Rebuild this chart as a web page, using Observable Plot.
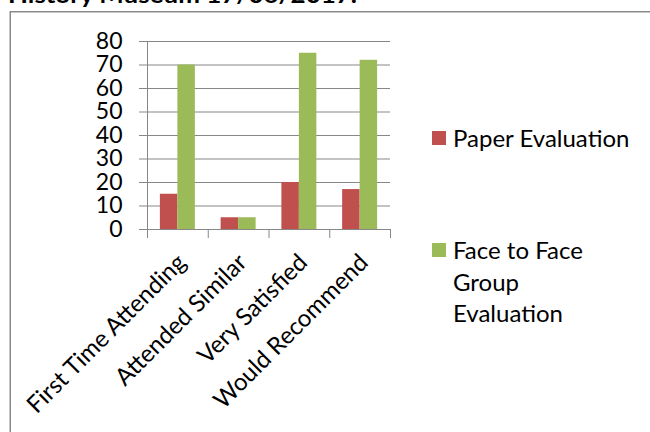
<!DOCTYPE html>
<html>
<head>
<meta charset="utf-8">
<script src="https://cdn.jsdelivr.net/npm/d3@7"></script>
<script src="https://cdn.jsdelivr.net/npm/@observablehq/plot@0.6"></script>
<style>
  html, body { margin: 0; padding: 0; background: #fff; overflow: hidden; }
  #chart { position: relative; width: 650px; height: 432px; }
</style>
</head>
<body>
<div id="chart"></div>
<script>
const title = "History Museum 17/06/2017.";
const categories = ["First Time Attending", "Attended Similar", "Very Satisfied", "Would Recommend"];
const series = ["Paper Evaluation", "Face to Face Group Evaluation"];
const legendLines = [["Paper Evaluation"], ["Face to Face", "Group", "Evaluation"]];
const paperValues = [15, 5, 20, 17];
const faceValues = [70, 5, 75, 72];
const yTicks = [0, 10, 20, 30, 40, 50, 60, 70, 80];
const colors = ["#C0504D", "#9BBB59"];

const FONT = "Lato, 'Open Sans', sans-serif";
const GRAY = "#878787";
const barFrac = 0.288; // bar width as a fraction of a category slot

const data = categories.flatMap((c, i) => [
  {cat: c, i, k: 0, series: series[0], value: paperValues[i]},
  {cat: c, i, k: 1, series: series[1], value: faceValues[i]}
]);

const plot = Plot.plot({
  width: 650,
  height: 432,
  marginLeft: 147,
  marginRight: 260,
  marginTop: 41,
  marginBottom: 203,
  x: {domain: [0, categories.length], axis: null},
  y: {domain: [0, 80], axis: null},
  color: {domain: series, range: colors},
  style: {fontFamily: FONT, background: "transparent", overflow: "visible", color: "#000"},
  marks: [
    Plot.gridY(yTicks, {stroke: GRAY, strokeOpacity: 1, strokeWidth: 1}),
    Plot.rectY(data, {
      x1: d => d.i + 0.5 + (d.k - 1) * barFrac,
      x2: d => d.i + 0.5 + d.k * barFrac,
      y: "value",
      fill: "series"
    }),
    Plot.ruleY([0], {stroke: GRAY, strokeWidth: 1}),
    Plot.ruleX([0], {stroke: GRAY, strokeWidth: 1}),
    Plot.axisY(yTicks, {tickSize: 8, tickPadding: 17, fontSize: 23, stroke: GRAY, fill: "#000", label: null}),
    Plot.axisX(d3.range(categories.length + 1), {tickSize: 9, tickFormat: () => "", stroke: GRAY, label: null}),
    Plot.text(categories, {
      x: (d, i) => i + 0.5,
      y: () => 0,
      text: d => d,
      rotate: -45,
      textAnchor: "end",
      fontSize: 24,
      fill: "#000",
      dx: 4,
      dy: 29
    })
  ]
});

document.getElementById("chart").appendChild(plot);

const svg = d3.select(plot);

// outer chart frame (extends past the visible window)
svg.insert("rect", ":first-child")
  .attr("x", 10.25).attr("y", 11.75)
  .attr("width", 800).attr("height", 600)
  .attr("fill", "none").attr("stroke", "#8a8a8a").attr("stroke-width", 1.5);

// clipped title above the frame
svg.append("text")
  .attr("x", 8).attr("y", 3)
  .attr("text-anchor", "start")
  .attr("font-family", FONT).attr("font-weight", "bold").attr("font-size", 22)
  .attr("textLength", 349).attr("lengthAdjust", "spacingAndGlyphs")
  .attr("fill", "#000")
  .text(title);

// legend
const legendY = [131, 243];
series.forEach((s, k) => {
  const g = svg.append("g");
  g.append("rect")
    .attr("x", 432).attr("y", legendY[k])
    .attr("width", 14).attr("height", 14)
    .attr("fill", colors[k]);
  legendLines[k].forEach((line, j) => {
    g.append("text")
      .attr("x", 453).attr("y", legendY[k] + 16 + j * 31.5)
      .attr("text-anchor", "start")
      .attr("font-family", FONT).attr("font-size", 24).attr("fill", "#000")
      .text(line);
  });
});
</script>
</body>
</html>
